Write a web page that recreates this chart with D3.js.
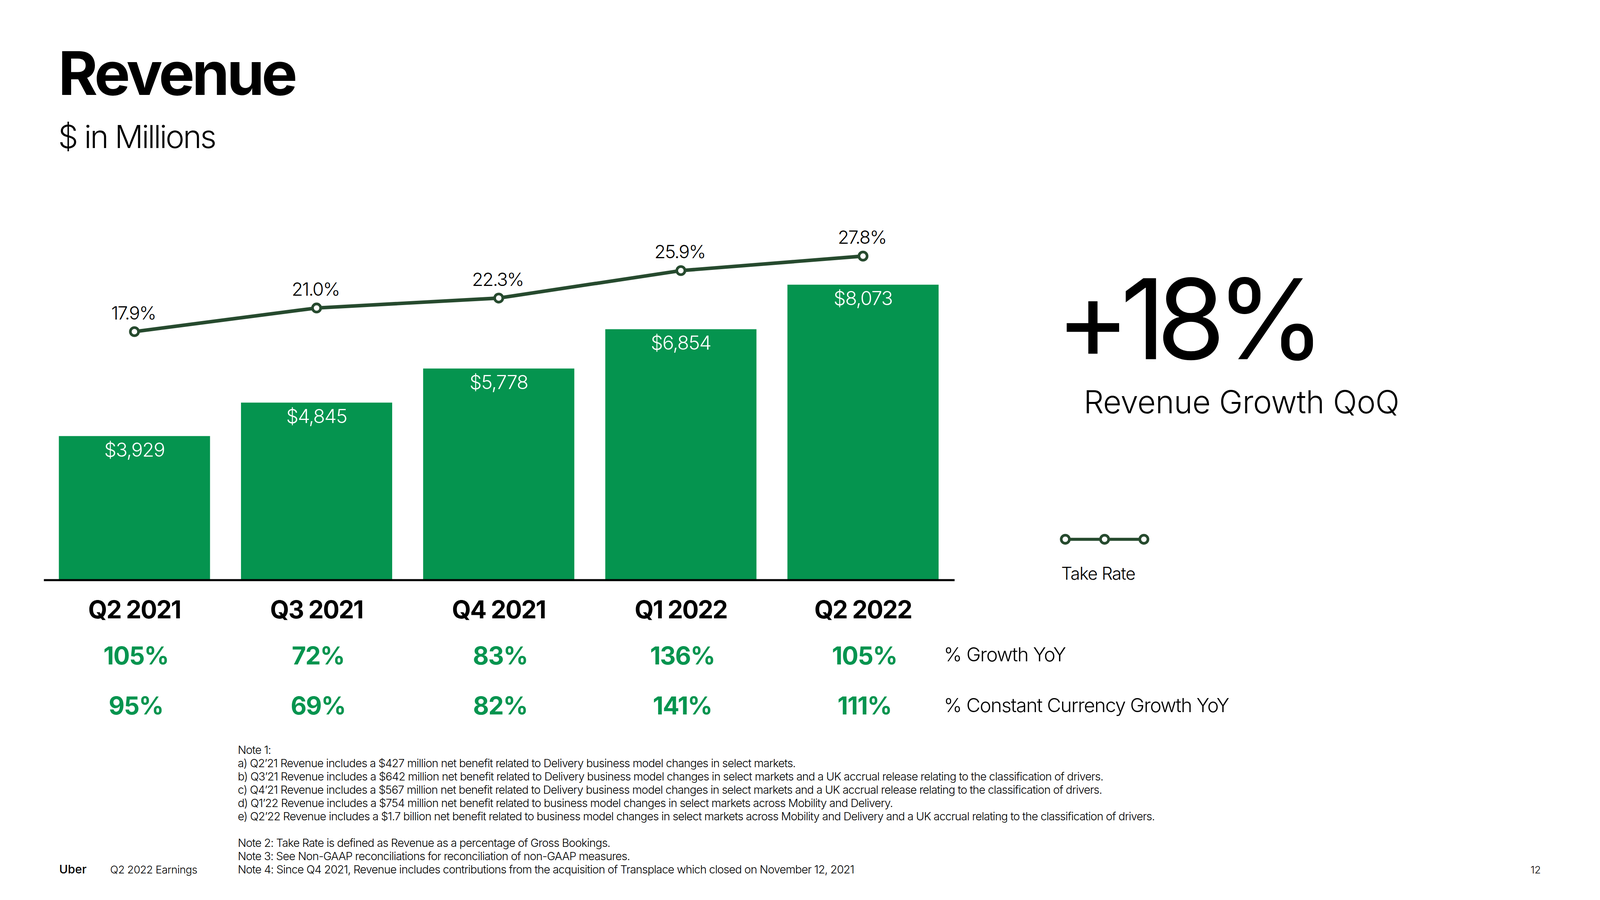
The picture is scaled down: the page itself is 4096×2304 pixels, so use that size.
<!DOCTYPE html>
<html><head><meta charset="utf-8">
<script src="https://cdn.jsdelivr.net/npm/d3@7"></script>
<style>html,body{margin:0;padding:0;background:#fff;overflow:hidden}svg{display:block}text{font-family:Inter,"Noto Sans",sans-serif}</style>
</head><body>
<script>
const categories = ["Q2 2021","Q3 2021","Q4 2021","Q1 2022","Q2 2022"];
const revenue = [3929, 4845, 5778, 6854, 8073];
const takeRate = [17.9, 21.0, 22.3, 25.9, 27.8];
const growthYoY = ["105%","72%","83%","136%","105%"];
const constCurrencyYoY = ["95%","69%","82%","141%","111%"];
const notes = [
 "Note 1:",
 "a) Q2’21 Revenue includes a $427 million net benefit related to Delivery business model changes in select markets.",
 "b) Q3’21 Revenue  includes a $642 million net benefit related to Delivery business model changes in select markets and a UK accrual release relating to the classification of drivers.",
 "c) Q4’21 Revenue includes a $567 million net benefit related to Delivery business model changes in select markets and a UK accrual release relating to the classification of drivers.",
 "d) Q1’22 Revenue includes a $754 million net benefit related to business model changes in select markets across Mobility and Delivery.",
 "e) Q2’22 Revenue includes a $1.7 billion net benefit related to business model changes in select markets across Mobility and Delivery and a UK accrual relating to the classification of drivers.",
 "",
 "Note 2: Take Rate is defined as Revenue as a percentage of Gross Bookings.",
 "Note 3: See Non-GAAP reconciliations for reconciliation of non-GAAP measures.",
 "Note 4: Since Q4 2021, Revenue includes contributions from the acquisition of Transplace which closed on November 12, 2021"
];

const GREEN = "#05944F", DARK = "#264A2E";
const svg = d3.select("body").append("svg")
  .attr("width", 4096).attr("height", 2304)
  .attr("viewBox", "0 0 1568 882");

// Title
svg.append("text").attr("x", 57).attr("y", 93).attr("font-size", 59).attr("font-weight", 700)
  .attr("letter-spacing", -2.6).text("Revenue");
svg.append("text").attr("x", 57).attr("y", 145).attr("font-size", 31).attr("font-weight", 300)
  .attr("letter-spacing", -1.4).text("$ in Millions");

// Scales
const x = d3.scaleBand().domain(categories).range([42.5, 935]).paddingInner(0.17).paddingOuter(0.085);
const y = d3.scaleLinear().domain([0, 10000]).range([568, 210]);
const y2 = d3.scaleLinear().domain([0, 30]).range([458.8, 234.55]);

// Bars
svg.append("g").selectAll("rect").data(revenue).join("rect")
  .attr("x", (d,i) => x(categories[i])).attr("width", x.bandwidth())
  .attr("y", d => y(d)).attr("height", d => y(0) - y(d)).attr("fill", GREEN);

svg.append("g").selectAll("text").data(revenue).join("text")
  .attr("x", (d,i) => x(categories[i]) + x.bandwidth()/2).attr("y", d => y(d) + 20)
  .attr("text-anchor", "middle").attr("font-size", 19).attr("font-weight", 300).attr("fill", "#fff")
  .attr("letter-spacing", -0.6)
  .text(d => "$" + d3.format(",")(d));

// Axis
const xAxis = d3.axisBottom(x).tickSize(0).tickPadding(0);
const ax = svg.append("g").attr("transform", `translate(0,${y(0)})`).call(xAxis);
ax.select(".domain").attr("stroke", "#000").attr("stroke-width", 2);
ax.selectAll(".tick text").attr("font-size", 24).attr("font-weight", 700).attr("fill", "#000")
  .attr("font-family", "Inter, sans-serif").attr("letter-spacing", -0.8).attr("dy", 0).attr("y", 38);

// Growth rows
const cx = (i) => x(categories[i]) + x.bandwidth()/2;
svg.append("g").selectAll("text").data(growthYoY).join("text")
  .attr("x", (d,i) => cx(i) + 1.5).attr("y", 651).attr("text-anchor", "middle")
  .attr("font-size", 24).attr("font-weight", 700).attr("fill", GREEN).attr("letter-spacing", -0.6).text(d => d);
svg.append("g").selectAll("text").data(constCurrencyYoY).join("text")
  .attr("x", (d,i) => cx(i) + 1.5).attr("y", 700).attr("text-anchor", "middle")
  .attr("font-size", 24).attr("font-weight", 700).attr("fill", GREEN).attr("letter-spacing", -0.6).text(d => d);
svg.append("text").attr("x", 925).attr("y", 648).attr("font-size", 19).attr("font-weight", 300)
  .attr("letter-spacing", -0.55).text("% Growth YoY");
svg.append("text").attr("x", 925).attr("y", 698).attr("font-size", 19).attr("font-weight", 300)
  .attr("letter-spacing", -0.6).text("% Constant Currency Growth YoY");

// Take rate line
const line = d3.line().x((d,i) => cx(i)).y(d => y2(d));
svg.append("path").datum(takeRate).attr("d", line).attr("fill", "none")
  .attr("stroke", DARK).attr("stroke-width", 3.5);
svg.append("g").selectAll("circle").data(takeRate).join("circle")
  .attr("cx", (d,i) => cx(i)).attr("cy", d => y2(d)).attr("r", 4)
  .attr("fill", "#fff").attr("stroke", DARK).attr("stroke-width", 2.6);
svg.append("g").selectAll("text").data(takeRate).join("text")
  .attr("x", (d,i) => cx(i) - 1).attr("y", d => y2(d) - 12).attr("text-anchor", "middle")
  .attr("font-size", 18).attr("font-weight", 300).attr("letter-spacing", -0.8)
  .text(d => d.toFixed(1) + "%");

// Big stat
svg.append("text").attr("x", 1035).attr("y", 352).attr("font-size", 109).attr("font-weight", 400)
  .attr("letter-spacing", -9).text("+18%");
svg.append("text").attr("x", 1062).attr("y", 405).attr("font-size", 31).attr("font-weight", 300)
  .attr("letter-spacing", -0.2).text("Revenue Growth QoQ");

// Legend
const lg = [1044, 1082.5, 1121];
svg.append("line").attr("x1", lg[0]).attr("x2", lg[2]).attr("y1", 528.5).attr("y2", 528.5)
  .attr("stroke", DARK).attr("stroke-width", 3);
svg.append("g").selectAll("circle").data(lg).join("circle")
  .attr("cx", d => d).attr("cy", 528.5).attr("r", 4).attr("fill", "#fff")
  .attr("stroke", DARK).attr("stroke-width", 2.6);
svg.append("text").attr("x", 1040).attr("y", 568).attr("font-size", 17).attr("font-weight", 300)
  .attr("letter-spacing", -0.5).text("Take Rate");

// Notes
svg.append("g").selectAll("text").data(notes).join("text")
  .attr("x", 233).attr("y", (d,i) => 739 + i*13).attr("font-size", 11).attr("font-weight", 300)
  .attr("letter-spacing", -0.35).text(d => d);

// Footer
svg.append("text").attr("x", 58).attr("y", 856).attr("font-size", 11.5).attr("font-weight", 500).text("Uber");
svg.append("text").attr("x", 108).attr("y", 856).attr("font-size", 10.5).attr("font-weight", 300)
  .attr("letter-spacing", -0.2).text("Q2 2022 Earnings");
svg.append("text").attr("x", 1510).attr("y", 856).attr("text-anchor", "end").attr("font-size", 10)
  .attr("font-weight", 300).text("12");
</script>
</body></html>
